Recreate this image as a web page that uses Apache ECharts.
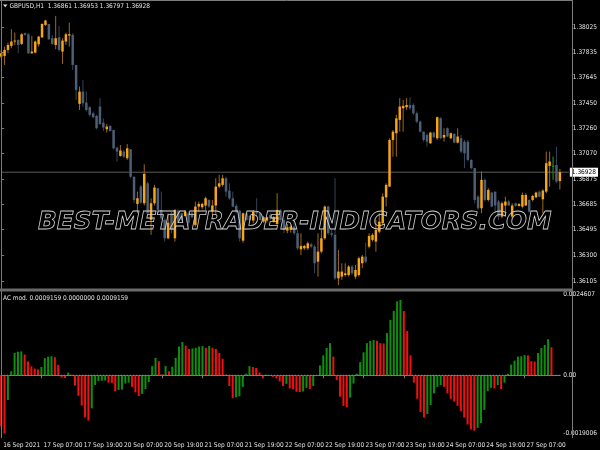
<!DOCTYPE html>
<html><head><meta charset="utf-8">
<script src="https://cdn.jsdelivr.net/npm/echarts@6/dist/echarts.min.js"></script>
<style>html,body{margin:0;padding:0;background:#000;}#c{width:600px;height:450px;}</style>
</head><body><div id="c"></div>
<script>
const symbolName = 'GBPUSD,H1';
const indicatorName = 'AC mod.';
const watermark = 'BEST-METATRADER-INDICATORS.COM';
// [open, close, low, high] per H1 bar
const candles = [
[1.37803,1.37828,1.37790,1.37854],[1.37808,1.37854,1.37740,1.37879],[1.37854,1.37891,1.37828,1.37909],[1.37884,1.37917,1.37866,1.38010],
[1.37917,1.37924,1.37891,1.37985],[1.37929,1.37891,1.37828,1.37934],[1.37899,1.37972,1.37891,1.37980],[1.37980,1.37967,1.37960,1.37985],
[1.37972,1.37828,1.37823,1.37980],[1.37828,1.37841,1.37823,1.37960],[1.37833,1.37917,1.37828,1.37924],[1.37896,1.37954,1.37879,1.37960],
[1.37949,1.38050,1.37942,1.38055],[1.38043,1.38076,1.38035,1.38081],[1.38050,1.37934,1.37929,1.38050],[1.37942,1.37899,1.37891,1.37967],
[1.37891,1.37942,1.37859,1.38111],[1.37949,1.37854,1.37841,1.38035],[1.37841,1.37924,1.37748,1.37942],[1.37917,1.37972,1.37891,1.37985],
[1.37962,1.37972,1.37879,1.38060],[1.37967,1.37740,1.37702,1.37980],[1.37740,1.37551,1.37475,1.37740],[1.37445,1.37538,1.37399,1.37576],
[1.37538,1.37450,1.37425,1.37626],[1.37455,1.37399,1.37387,1.37538],[1.37420,1.37362,1.37349,1.37425],[1.37374,1.37344,1.37336,1.37387],
[1.37354,1.37261,1.37253,1.37362],[1.37425,1.37293,1.37286,1.37488],[1.37303,1.37266,1.37240,1.37336],[1.37253,1.37273,1.37228,1.37293],
[1.37278,1.37240,1.37235,1.37286],[1.37248,1.37109,1.37102,1.37248],[1.37114,1.37084,1.37009,1.37121],[1.37051,1.37092,1.37046,1.37134],
[1.37084,1.37046,1.37034,1.37097],[1.37034,1.37109,1.37021,1.37142],[1.37102,1.36894,1.36882,1.37102],[1.36894,1.36718,1.36693,1.36894],
[1.36688,1.36731,1.36617,1.36781],[1.36819,1.36698,1.36688,1.36832],[1.36693,1.36915,1.36676,1.36988],[1.36844,1.36617,1.36592,1.36857],
[1.36567,1.36693,1.36454,1.36731],[1.36693,1.36812,1.36676,1.36832],[1.36807,1.36643,1.36617,1.36807],[1.36643,1.36579,1.36567,1.36781],
[1.36567,1.36428,1.36403,1.36579],[1.36428,1.36546,1.36421,1.36617],[1.36617,1.36491,1.36466,1.36630],[1.36428,1.36643,1.36403,1.36648],
[1.36638,1.36554,1.36546,1.36643],[1.36617,1.36567,1.36554,1.36622],[1.36597,1.36630,1.36592,1.36643],[1.36617,1.36546,1.36516,1.36630],
[1.36617,1.36587,1.36579,1.36630],[1.36529,1.36668,1.36516,1.36706],[1.36668,1.36688,1.36630,1.36706],[1.36663,1.36688,1.36648,1.36698],
[1.36676,1.36731,1.36643,1.36743],[1.36718,1.36668,1.36655,1.36723],[1.36630,1.36676,1.36605,1.36718],[1.36676,1.36819,1.36605,1.36882],
[1.36819,1.36844,1.36807,1.36908],[1.36832,1.36882,1.36819,1.36908],[1.36882,1.36781,1.36743,1.36894],[1.36789,1.36731,1.36718,1.36844],
[1.36731,1.36668,1.36663,1.36781],[1.36673,1.36630,1.36617,1.36688],[1.36638,1.36428,1.36403,1.36643],[1.36410,1.36617,1.36395,1.36622],
[1.36617,1.36567,1.36562,1.36630],[1.36597,1.36567,1.36554,1.36605],[1.36562,1.36630,1.36542,1.36643],[1.36630,1.36617,1.36605,1.36731],
[1.36617,1.36567,1.36562,1.36622],[1.36554,1.36587,1.36546,1.36597],[1.36562,1.36587,1.36546,1.36592],[1.36605,1.36579,1.36567,1.36617],
[1.36554,1.36587,1.36546,1.36597],[1.36536,1.36643,1.36529,1.36769],[1.36638,1.36567,1.36554,1.36648],[1.36567,1.36491,1.36466,1.36579],
[1.36486,1.36511,1.36466,1.36536],[1.36491,1.36516,1.36471,1.36529],[1.36516,1.36466,1.36454,1.36567],[1.36466,1.36352,1.36339,1.36491],
[1.36344,1.36370,1.36302,1.36466],[1.36352,1.36370,1.36339,1.36378],[1.36352,1.36390,1.36339,1.36403],[1.36383,1.36365,1.36352,1.36395],
[1.36365,1.36239,1.36163,1.36378],[1.36251,1.36327,1.36138,1.36466],[1.36327,1.36428,1.36314,1.36491],[1.36428,1.36668,1.36416,1.36676],
[1.36668,1.36466,1.36454,1.36676],[1.36466,1.36454,1.36436,1.36491],[1.36454,1.36125,1.36113,1.36882],[1.36125,1.36176,1.36074,1.36339],
[1.36138,1.36176,1.36113,1.36239],[1.36150,1.36163,1.36138,1.36239],[1.36150,1.36214,1.36138,1.36226],[1.36214,1.36163,1.36150,1.36226],
[1.36138,1.36188,1.36119,1.36226],[1.36150,1.36277,1.36138,1.36289],[1.36239,1.36289,1.36201,1.36302],[1.36289,1.36251,1.36239,1.36395],
[1.36365,1.36446,1.36352,1.36466],[1.36416,1.36454,1.36403,1.36466],[1.36403,1.36491,1.36327,1.36567],[1.36478,1.36554,1.36466,1.36617],
[1.36542,1.36743,1.36529,1.36769],[1.36738,1.36832,1.36668,1.36844],[1.36819,1.37172,1.36819,1.37185],[1.37172,1.37235,1.37046,1.37248],
[1.37223,1.37336,1.37046,1.37362],[1.37324,1.37425,1.37235,1.37488],[1.37412,1.37430,1.37235,1.37475],[1.37420,1.37437,1.37399,1.37488],
[1.37437,1.37412,1.37399,1.37493],[1.37437,1.37374,1.37362,1.37450],[1.37374,1.37311,1.37298,1.37387],[1.37311,1.37235,1.37228,1.37319],
[1.37235,1.37172,1.37159,1.37235],[1.37210,1.37159,1.37121,1.37223],[1.37147,1.37228,1.37142,1.37235],[1.37228,1.37193,1.37185,1.37235],
[1.37185,1.37344,1.37172,1.37349],[1.37336,1.37185,1.37177,1.37344],[1.37190,1.37210,1.37159,1.37261],[1.37261,1.37198,1.37193,1.37266],
[1.37185,1.37223,1.37177,1.37228],[1.37218,1.37152,1.37147,1.37223],[1.37152,1.37198,1.37147,1.37261],[1.37185,1.37084,1.37071,1.37210],
[1.37159,1.37071,1.36959,1.37172],[1.37159,1.37021,1.37009,1.37172],[1.37021,1.36959,1.36950,1.37026],[1.36959,1.36718,1.36693,1.36959],
[1.36743,1.36655,1.36643,1.36756],[1.36655,1.36870,1.36617,1.36933],[1.36870,1.36718,1.36706,1.36882],[1.36718,1.36794,1.36706,1.36807],
[1.36774,1.36668,1.36663,1.36781],[1.36781,1.36676,1.36617,1.36781],[1.36706,1.36592,1.36567,1.36718],[1.36592,1.36693,1.36579,1.36706],
[1.36676,1.36706,1.36592,1.36743],[1.36706,1.36676,1.36673,1.36718],[1.36592,1.36676,1.36579,1.36693],[1.36693,1.36673,1.36668,1.36698],
[1.36673,1.36688,1.36668,1.36693],[1.36668,1.36756,1.36655,1.36774],[1.36676,1.36756,1.36673,1.36769],[1.36718,1.36630,1.36622,1.36723],
[1.36718,1.36748,1.36706,1.36756],[1.36738,1.36774,1.36731,1.36781],[1.36781,1.36743,1.36738,1.36789],[1.36723,1.36789,1.36617,1.36799],
[1.36781,1.36996,1.36769,1.37084],[1.36976,1.37009,1.36819,1.37084],[1.36977,1.36977,1.36870,1.37046],[1.36983,1.36857,1.36844,1.37121],
[1.36861,1.36928,1.36797,1.36953]
];
// AC histogram values per bar
const ac = [
-0.00167,-0.0019006,-0.00081,0.00013,0.00073,0.00077,0.00078,0.00068,0.00045,0.00029,
0.00022,0.00019,0.00027,0.00056,0.00061,0.00062,0.00059,0.00034,-0.00008,-0.00009,
0.00009,0.00002,-0.00034,-0.00067,-0.00099,-0.00138,-0.00148,-0.00108,-0.00032,-0.00019,
-0.00018,-0.00017,-0.00024,-0.00025,-0.00052,-0.00048,-0.00047,-0.00027,-0.00024,-0.00038,
-0.00056,-0.00068,-0.00061,-0.00045,-0.00022,0.00030,0.00057,0.00046,0.00003,0.00030,
0.00013,0.00028,0.00057,0.00094,0.00109,0.00097,0.00086,0.00088,0.00090,0.00094,
0.00095,0.00090,0.00096,0.00090,0.00086,0.00073,0.00054,0.00002,-0.00035,-0.00075,
-0.00072,-0.00069,-0.00038,0.00005,0.00030,0.00027,0.00024,0.00009,-0.00010,0.00002,
-0.00001,-0.00005,-0.00010,-0.00020,-0.00035,-0.00028,-0.00043,-0.00046,-0.00054,-0.00055,
-0.00053,-0.00041,-0.00045,-0.00035,-0.00003,0.00032,0.00065,0.00089,0.00105,0.00061,
-0.00016,-0.00070,-0.00100,-0.00105,-0.00073,-0.00027,0.00005,0.00043,0.00075,0.00105,
0.00113,0.00115,0.00113,0.00105,0.00104,0.00138,0.00181,0.00210,0.00242,0.0024607,
0.00210,0.00145,0.00065,-0.00024,-0.00077,-0.00120,-0.00138,-0.00127,-0.00097,-0.00059,
-0.00038,-0.00032,-0.00038,-0.00059,-0.00077,-0.00086,-0.00100,-0.00118,-0.00138,-0.00161,
-0.00177,-0.00181,-0.00172,-0.00156,-0.00113,-0.00052,-0.00041,-0.00043,-0.00032,-0.00045,
-0.00024,0.00005,0.00035,0.00048,0.00061,0.00062,0.00066,0.00065,0.00046,0.00045,
0.00073,0.00089,0.00099,0.00118,0.0009159
];
const priceTicks = [1.36105,1.36300,1.36495,1.36685,1.36875,1.37070,1.37260,1.37450,1.37645,1.37835,1.38025];
const timeTickIdx = [0,12,24,36,48,60,72,84,96,108,120,132,144,156];
const timeTickLabels = ['16 Sep 2021','17 Sep 07:00','17 Sep 19:00','20 Sep 07:00','20 Sep 19:00','21 Sep 07:00','21 Sep 19:00','22 Sep 07:00','22 Sep 19:00','23 Sep 07:00','23 Sep 19:00','24 Sep 07:00','24 Sep 19:00','27 Sep 07:00'];

const FONT = '"Liberation Sans Narrow","DejaVu Sans Condensed",sans-serif';
const TXT = '#e2e2e2', FRAME = '#7c7c7c';
const UP_BODY = '#f6a418', UP_WICK = '#9c6a14', DN_BODY = '#4d5f76', DN_WICK = '#34465a', DOJI = '#1fa01f';
const AC_UP = '#0e900e', AC_DN = '#f01010';

const N = candles.length;
const xMin = -0.05, xMax = 166.63;
const last = candles[N - 1];
const lastClose = last[1];
const acMax = Math.max(...ac), acMin = Math.min(...ac), acLast = ac[N - 1];
const candleData = candles.map((c, i) => [i, c[0], c[1], c[2], c[3]]);
const acData = ac.map((v, i) => [i, v, i === 0 ? 0 : (v > ac[i - 1] ? 1 : 0)]);

const chart = echarts.init(document.getElementById('c'), null, {renderer: 'canvas'});
const header = symbolName + '  ' + [last[0], last[3], last[2], last[1]].map(v => v.toFixed(5)).join(' ');
const acHeader = indicatorName + ' ' + acLast.toFixed(7) + ' ' + (0).toFixed(7) + ' ' + acLast.toFixed(7);

chart.setOption({
  backgroundColor: '#000',
  animation: false,
  grid: [
    {left: 1, right: 28, top: 4, height: 287},
    {left: 1, right: 28, top: 300, height: 133.4}
  ],
  xAxis: [
    {gridIndex: 0, type: 'value', min: xMin, max: xMax, show: false},
    {gridIndex: 1, type: 'value', min: xMin, max: xMax, offset: 4,
     axisLine: {show: true, lineStyle: {color: FRAME}},
     axisTick: {show: true, customValues: timeTickIdx, length: 3, lineStyle: {color: FRAME}},
     axisLabel: {customValues: timeTickIdx, formatter: v => timeTickLabels[timeTickIdx.indexOf(v)] || '',
       color: TXT, fontSize: 6.5, fontFamily: FONT, align: 'left', margin: 4, padding: [0, 0, 0, 2]},
     splitLine: {show: false}}
  ],
  yAxis: [
    {gridIndex: 0, type: 'value', position: 'right', min: 1.36029, max: 1.38201,
     axisLine: {show: false},
     axisTick: {show: true, customValues: priceTicks, length: 3, lineStyle: {color: FRAME}},
     axisLabel: {customValues: priceTicks, formatter: v => v.toFixed(5), color: TXT, fontSize: 6.5, fontFamily: FONT, margin: 4},
     splitLine: {show: false}},
    {gridIndex: 1, type: 'value', position: 'right', min: acMin, max: acMax,
     axisLine: {show: false},
     axisTick: {show: false},
     axisLabel: {customValues: [acMin, 0, acMax],
       formatter: v => v === 0 ? '0.00' : (v === acMax ? '{t|' + v.toFixed(7) + '}' : v.toFixed(7)),
       color: TXT, fontSize: 6.5, fontFamily: FONT, margin: 3,
       rich: {t: {color: TXT, fontSize: 6.5, fontFamily: FONT, padding: [0, 0, 12, 0]}}},
     splitLine: {show: false}}
  ],
  series: [
    {type: 'line', xAxisIndex: 0, yAxisIndex: 0, silent: true, z: 1,
     data: [[xMin, lastClose], [xMax, lastClose]], symbol: 'none',
     lineStyle: {color: '#5c5c5c', width: 1},
     endLabel: {show: true, formatter: () => lastClose.toFixed(5), backgroundColor: '#ffffff', color: '#000',
       fontSize: 6.5, fontFamily: FONT, padding: [1, 2, 1, 2], distance: 1}},
    {type: 'custom', xAxisIndex: 0, yAxisIndex: 0, z: 2, silent: true,
     data: candleData, encode: {x: 0, y: [1, 2, 3, 4]},
     renderItem: (params, api) => {
       const i = api.value(0), o = api.value(1), c = api.value(2), l = api.value(3), h = api.value(4);
       const pO = api.coord([i, o]), pC = api.coord([i, c]), pL = api.coord([i, l]), pH = api.coord([i, h]);
       const x = pO[0];
       const doji = o === c, up = c > o;
       const wick = doji ? DOJI : (up ? UP_WICK : DN_WICK);
       const body = doji ? DOJI : (up ? UP_BODY : DN_BODY);
       const top = Math.min(pO[1], pC[1]), hgt = Math.max(1, Math.abs(pO[1] - pC[1]));
       return {type: 'group', children: [
         {type: 'line', shape: {x1: x, y1: pH[1], x2: x, y2: pL[1]}, style: {stroke: wick, lineWidth: 1}},
         {type: 'rect', shape: {x: x - 1.25, y: top, width: 2.5, height: hgt}, style: {fill: body}}
       ]};
     }},
    {type: 'custom', xAxisIndex: 1, yAxisIndex: 1, z: 2, silent: true,
     data: acData, encode: {x: 0, y: 1},
     renderItem: (params, api) => {
       const i = api.value(0), v = api.value(1), up = api.value(2);
       const p0 = api.coord([i, 0]), p1 = api.coord([i, v]);
       return {type: 'rect', shape: {x: p0[0] - 1, y: Math.min(p0[1], p1[1]), width: 2, height: Math.abs(p1[1] - p0[1])},
         style: {fill: up ? AC_UP : AC_DN}};
     }},
    {type: 'line', xAxisIndex: 1, yAxisIndex: 1, silent: true, z: 3,
     data: [[xMin, 0], [xMax, 0]], symbol: 'none',
     lineStyle: {color: '#8a8a8a', width: 1, type: [1, 2]}}
  ],
  graphic: [
    {type: 'line', z: 100, shape: {x1: 1.5, y1: 0, x2: 1.5, y2: 438}, style: {stroke: FRAME, lineWidth: 1}},
    {type: 'line', z: 100, shape: {x1: 0, y1: 0.5, x2: 573, y2: 0.5}, style: {stroke: FRAME, lineWidth: 1}},
    {type: 'line', z: 100, shape: {x1: 572.5, y1: 0, x2: 572.5, y2: 438}, style: {stroke: FRAME, lineWidth: 1}},
    {type: 'rect', z: 100, shape: {x: 0, y: 288.5, width: 573, height: 3}, style: {fill: '#6a6a6a'}},
    {type: 'polygon', z: 100, shape: {points: [[3, 4.5], [7.5, 4.5], [5.25, 7.2]]}, style: {fill: TXT}},
    {type: 'text', z: 100, x: 9.5, y: 6, style: {text: header, fill: TXT, font: '6.5px ' + FONT, verticalAlign: 'middle'}},
    {type: 'text', z: 100, x: 3, y: 298, style: {text: acHeader, fill: TXT, font: '6.5px ' + FONT, verticalAlign: 'middle'}},
    {type: 'text', z: 100, x: 38, y: 223, style: {text: watermark, fill: 'rgba(0,0,0,0)', stroke: '#d0d0d0', lineWidth: 0.8,
      font: 'italic bold 24.7px "DejaVu Sans"', verticalAlign: 'middle'}}
  ]
});
</script>
</body></html>
